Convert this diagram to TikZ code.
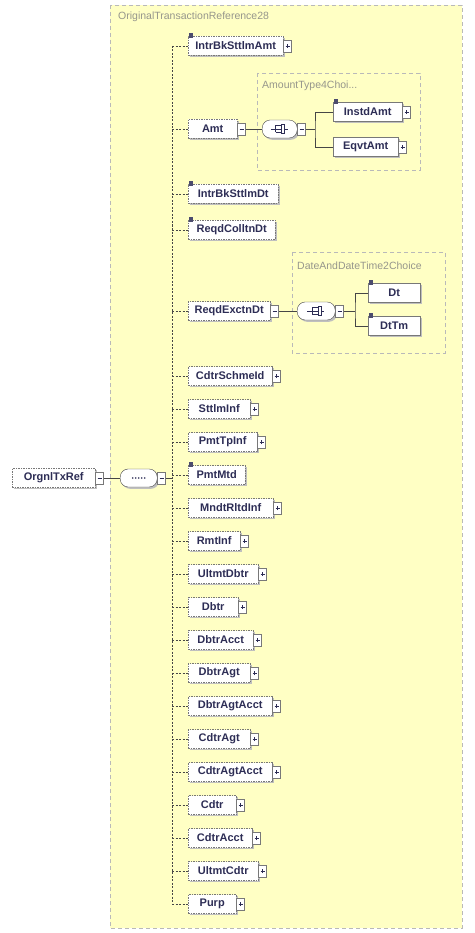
\documentclass[tikz,border=0pt]{standalone}
\usepackage{fontspec}
\setmainfont{Liberation Sans}
\usetikzlibrary{shadows}
\definecolor{bgyellow}{RGB}{255,255,196}
\definecolor{txt}{RGB}{45,45,85}
\definecolor{bord}{RGB}{120,120,120}
\definecolor{lbl}{RGB}{150,150,140}
\tikzset{
  shad/.style={drop shadow={shadow xshift=1.8pt, shadow yshift=-1.8pt, fill=gray!50, opacity=1}},
  elem/.style={draw=bord, fill=white, minimum height=19pt, inner sep=0pt, anchor=west,
    font=\fontsize{11}{13}\selectfont\bfseries, text=txt, shad},
  opt/.style={dash pattern=on 1.5pt off 1pt},
  conn/.style={draw=gray!55!black, line width=0.6pt},
  optconn/.style={conn, dash pattern=on 2pt off 1.5pt},
  iconbox/.style={draw=bord, fill=white, minimum width=8pt, minimum height=12pt, inner sep=0pt, anchor=west},
  comp/.style={draw=gray!55!black, fill=white, rounded corners=8pt, minimum height=18pt, inner sep=0pt, anchor=west, shad},
  grp/.style={draw=gray!55, dash pattern=on 4pt off 3pt, fill=bgyellow},
  grplabel/.style={anchor=west, text=lbl, font=\fontsize{10.5}{12}\selectfont, inner sep=0pt},
  sym/.style={draw=txt, line width=0.7pt},
}
\newcommand\pmicon[3]{%
  \node[iconbox] (#2) at (#1.east) {};
  \draw[sym] ([xshift=-2pt]#2.center) -- ([xshift=2pt]#2.center);
  \ifnum#3=1 \draw[sym] ([yshift=-2pt]#2.center) -- ([yshift=2pt]#2.center);\fi
}
\newcommand\smark[1]{%
  \fill[txt!85] ([xshift=0.5pt,yshift=-1.5pt]#1.north west) rectangle ++(4.5pt,4.5pt);
}
\newcommand\el[5]{%
  \node[elem,opt,minimum width=#3pt] (#1) at (188,#2) {#4};
  \ifnum#5<2 \pmicon{#1}{#1i}{#5}\fi
  \draw[optconn] (#1.west -| vtop) -- (#1.west);
}
\newcommand\choicesym[1]{%
  \draw[sym] ([xshift=-9pt]#1.center) -- ([xshift=-4pt]#1.center);
  \draw[sym] ([xshift=-4pt,yshift=3.5pt]#1.center) -- ([xshift=-4pt,yshift=-3.5pt]#1.center);
  \foreach \yy in {-3.5,0,3.5}{
    \draw[sym] ([xshift=-4pt,yshift=\yy pt]#1.center) -- ([xshift=2pt,yshift=\yy pt]#1.center);
  }
  \draw[sym] ([xshift=2pt,yshift=-4.5pt]#1.center) rectangle ([xshift=5pt,yshift=4.5pt]#1.center);
  \draw[sym] ([xshift=5pt]#1.center) -- ([xshift=8pt]#1.center);
}
\begin{document}
\begin{tikzpicture}[x=1pt,y=-1pt]
\useasboundingbox (0,0) rectangle (474,933);
\fill[white] (0,0) rectangle (474,933);
% groups
\draw[grp] (110,5) rectangle (462,928);
\node[grplabel] (glab0) at (118,17) {OriginalTransactionReference28};
\draw[grp] (257,73) rectangle (420,170);
\node[grplabel] (glab1) at (262,86) {AmountType4Choi...};
\draw[grp] (292,252) rectangle (445,353);
\node[grplabel] (glab2) at (297,266) {DateAndDateTime2Choice};
% root and sequence
\node[elem,opt,minimum width=83pt] (root) at (12,478) {OrgnlTxRef};
\pmicon{root}{rooti}{0}
\node[comp,minimum width=37pt] (seq) at (120,478) {};
\foreach \i in {-6,-3,0,3,6} \fill[txt] ([xshift=\i pt]seq.center) circle (0.9pt);
\pmicon{seq}{seqi}{0}
\draw[conn] (rooti.east) -- (seq.west);
\coordinate (vtop) at (172,46);
\coordinate (vbot) at (172,904);
\draw[conn] (seqi.east) -- (seqi.east -| vtop);
\draw[optconn] (vtop) -- (vbot);
% elements
\el{IntrBkSttlmAmt}{46}{95}{IntrBkSttlmAmt}{1}
\el{Amt}{129}{49}{Amt}{0}
\el{IntrBkSttlmDt}{194}{90}{IntrBkSttlmDt}{2}
\el{ReqdColltnDt}{230}{87}{ReqdColltnDt}{2}
\el{ReqdExctnDt}{311}{82}{ReqdExctnDt}{0}
\el{CdtrSchmeId}{376}{84}{CdtrSchmeId}{1}
\el{SttlmInf}{409}{62}{SttlmInf}{1}
\el{PmtTpInf}{442}{69}{PmtTpInf}{1}
\el{PmtMtd}{475}{57}{PmtMtd}{2}
\el{MndtRltdInf}{508}{85}{MndtRltdInf}{1}
\el{RmtInf}{541}{52}{RmtInf}{1}
\el{UltmtDbtr}{574}{70}{UltmtDbtr}{1}
\el{Dbtr}{607}{50}{Dbtr}{1}
\el{DbtrAcct}{640}{65}{DbtrAcct}{1}
\el{DbtrAgt}{673}{62}{DbtrAgt}{1}
\el{DbtrAgtAcct}{706}{84}{DbtrAgtAcct}{1}
\el{CdtrAgt}{739}{62}{CdtrAgt}{1}
\el{CdtrAgtAcct}{772}{84}{CdtrAgtAcct}{1}
\el{Cdtr}{805}{48}{Cdtr}{1}
\el{CdtrAcct}{838}{64}{CdtrAcct}{1}
\el{UltmtCdtr}{871}{70}{UltmtCdtr}{1}
\el{Purp}{904}{48}{Purp}{1}
\smark{IntrBkSttlmAmt}
\smark{IntrBkSttlmDt}
\smark{ReqdColltnDt}
\smark{PmtMtd}
% Amt choice
\node[comp,minimum width=35pt] (ch1) at (262,129) {};
\choicesym{ch1}
\pmicon{ch1}{ch1i}{0}
\draw[conn] (Amti.east) -- (ch1.west);
\coordinate (b1) at (315,129);
\draw[conn] (ch1i.east) -- (b1);
\node[elem,minimum width=69pt] (InstdAmt) at (333,112) {InstdAmt};
\pmicon{InstdAmt}{InstdAmti}{1}
\smark{InstdAmt}
\node[elem,minimum width=65pt] (EqvtAmt) at (333,147) {EqvtAmt};
\pmicon{EqvtAmt}{EqvtAmti}{1}
\draw[conn] (InstdAmt.west) -| (b1) |- (EqvtAmt.west);
% ReqdExctnDt choice
\node[comp,minimum width=38pt] (ch2) at (297,311) {};
\choicesym{ch2}
\pmicon{ch2}{ch2i}{0}
\draw[conn] (ReqdExctnDti.east) -- (ch2.west);
\coordinate (b2) at (355,311);
\draw[conn] (ch2i.east) -- (b2);
\node[elem,minimum width=52pt] (Dt) at (368,293) {Dt};
\smark{Dt}
\node[elem,minimum width=52pt] (DtTm) at (368,326) {DtTm};
\smark{DtTm}
\draw[conn] (Dt.west) -| (b2) |- (DtTm.west);
\end{tikzpicture}
\end{document}
